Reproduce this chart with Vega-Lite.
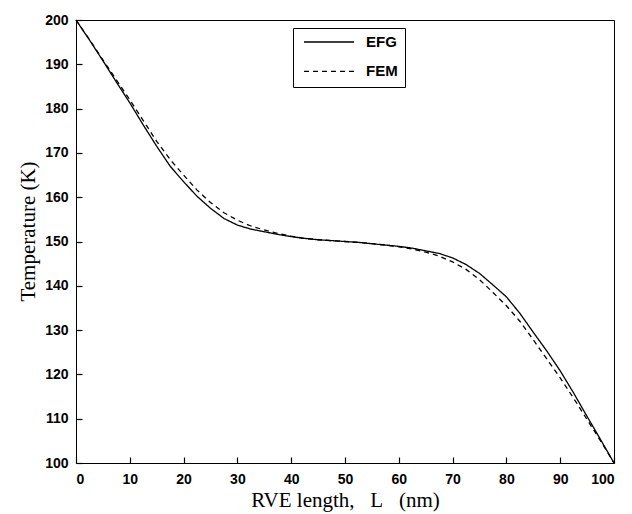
{
  "$schema": "https://vega.github.io/schema/vega-lite/v6.json",
  "width": 538,
  "height": 443,
  "autosize": "none",
  "padding": {"left": 76, "top": 20, "right": 18, "bottom": 51},
  "background": "white",
  "config": {
    "view": {"stroke": "black", "strokeWidth": 1},
    "axis": {
      "grid": false,
      "domain": false,
      "tickColor": "black",
      "tickOpacity": 1,
      "tickSize": 6,
      "tickWidth": 1.2,
      "labelFont": "Liberation Sans",
      "labelFontWeight": "bold",
      "labelFontSize": 14,
      "labelColor": "black",
      "titleFont": "Liberation Serif",
      "titleFontWeight": "normal",
      "titleFontSize": 21,
      "titleColor": "black"
    }
  },
  "data": {
    "values": [
      {"L": 0, "T": 200, "method": "EFG"},
      {"L": 2.5, "T": 195.5, "method": "EFG"},
      {"L": 5, "T": 190.8, "method": "EFG"},
      {"L": 7.5, "T": 186, "method": "EFG"},
      {"L": 10, "T": 181.3, "method": "EFG"},
      {"L": 12.5, "T": 176.3, "method": "EFG"},
      {"L": 15, "T": 171.5, "method": "EFG"},
      {"L": 17.5, "T": 167, "method": "EFG"},
      {"L": 20, "T": 163.5, "method": "EFG"},
      {"L": 22.5, "T": 160.2, "method": "EFG"},
      {"L": 25, "T": 157.5, "method": "EFG"},
      {"L": 27.5, "T": 155.2, "method": "EFG"},
      {"L": 30, "T": 153.7, "method": "EFG"},
      {"L": 32.5, "T": 152.8, "method": "EFG"},
      {"L": 35, "T": 152.2, "method": "EFG"},
      {"L": 37.5, "T": 151.6, "method": "EFG"},
      {"L": 40, "T": 151.1, "method": "EFG"},
      {"L": 42.5, "T": 150.7, "method": "EFG"},
      {"L": 45, "T": 150.4, "method": "EFG"},
      {"L": 47.5, "T": 150.2, "method": "EFG"},
      {"L": 50, "T": 150, "method": "EFG"},
      {"L": 52.5, "T": 149.8, "method": "EFG"},
      {"L": 55, "T": 149.5, "method": "EFG"},
      {"L": 57.5, "T": 149.2, "method": "EFG"},
      {"L": 60, "T": 148.9, "method": "EFG"},
      {"L": 62.5, "T": 148.5, "method": "EFG"},
      {"L": 65, "T": 147.9, "method": "EFG"},
      {"L": 67.5, "T": 147.3, "method": "EFG"},
      {"L": 70, "T": 146.3, "method": "EFG"},
      {"L": 72.5, "T": 144.8, "method": "EFG"},
      {"L": 75, "T": 142.8, "method": "EFG"},
      {"L": 77.5, "T": 140.2, "method": "EFG"},
      {"L": 80, "T": 137.5, "method": "EFG"},
      {"L": 82.5, "T": 133.8, "method": "EFG"},
      {"L": 85, "T": 129.5, "method": "EFG"},
      {"L": 87.5, "T": 125.3, "method": "EFG"},
      {"L": 90, "T": 120.8, "method": "EFG"},
      {"L": 92.5, "T": 115.8, "method": "EFG"},
      {"L": 95, "T": 110.5, "method": "EFG"},
      {"L": 97.5, "T": 105.3, "method": "EFG"},
      {"L": 100, "T": 100, "method": "EFG"},
      {"L": 0, "T": 200, "method": "FEM"},
      {"L": 2.5, "T": 195.6, "method": "FEM"},
      {"L": 5, "T": 191, "method": "FEM"},
      {"L": 7.5, "T": 186.5, "method": "FEM"},
      {"L": 10, "T": 182, "method": "FEM"},
      {"L": 12.5, "T": 177.3, "method": "FEM"},
      {"L": 15, "T": 172.6, "method": "FEM"},
      {"L": 17.5, "T": 168.5, "method": "FEM"},
      {"L": 20, "T": 165, "method": "FEM"},
      {"L": 22.5, "T": 161.6, "method": "FEM"},
      {"L": 25, "T": 158.8, "method": "FEM"},
      {"L": 27.5, "T": 156.5, "method": "FEM"},
      {"L": 30, "T": 154.8, "method": "FEM"},
      {"L": 32.5, "T": 153.5, "method": "FEM"},
      {"L": 35, "T": 152.6, "method": "FEM"},
      {"L": 37.5, "T": 151.8, "method": "FEM"},
      {"L": 40, "T": 151.2, "method": "FEM"},
      {"L": 42.5, "T": 150.7, "method": "FEM"},
      {"L": 45, "T": 150.4, "method": "FEM"},
      {"L": 47.5, "T": 150.2, "method": "FEM"},
      {"L": 50, "T": 150, "method": "FEM"},
      {"L": 52.5, "T": 149.8, "method": "FEM"},
      {"L": 55, "T": 149.5, "method": "FEM"},
      {"L": 57.5, "T": 149.2, "method": "FEM"},
      {"L": 60, "T": 148.8, "method": "FEM"},
      {"L": 62.5, "T": 148.3, "method": "FEM"},
      {"L": 65, "T": 147.6, "method": "FEM"},
      {"L": 67.5, "T": 146.7, "method": "FEM"},
      {"L": 70, "T": 145.4, "method": "FEM"},
      {"L": 72.5, "T": 143.7, "method": "FEM"},
      {"L": 75, "T": 141.4, "method": "FEM"},
      {"L": 77.5, "T": 138.5, "method": "FEM"},
      {"L": 80, "T": 135.5, "method": "FEM"},
      {"L": 82.5, "T": 132, "method": "FEM"},
      {"L": 85, "T": 127.8, "method": "FEM"},
      {"L": 87.5, "T": 123.5, "method": "FEM"},
      {"L": 90, "T": 119.2, "method": "FEM"},
      {"L": 92.5, "T": 114.6, "method": "FEM"},
      {"L": 95, "T": 109.8, "method": "FEM"},
      {"L": 97.5, "T": 105, "method": "FEM"},
      {"L": 100, "T": 100, "method": "FEM"}
    ]
  },
  "mark": {"type": "line", "color": "black", "strokeWidth": 1.3},
  "encoding": {
    "x": {
      "field": "L", "type": "quantitative",
      "scale": {"domain": [0, 100], "nice": false},
      "axis": {"orient": "bottom", "ticks": true, "offset": -6, "values": [0,10,20,30,40,50,60,70,80,90,100], "labelPadding": 9, "title": "RVE length,\u00a0\u00a0\u00a0L\u00a0\u00a0\u00a0(nm)", "titlePadding": 3}
    },
    "y": {
      "field": "T", "type": "quantitative",
      "scale": {"domain": [100, 200], "nice": false, "zero": false},
      "axis": {"orient": "left", "ticks": true, "offset": -6, "values": [100,110,120,130,140,150,160,170,180,190,200], "labelPadding": 8, "title": "Temperature (K)", "titlePadding": 6, "titleY": 211}
    },
    "strokeDash": {
      "field": "method", "type": "nominal",
      "scale": {"domain": ["EFG", "FEM"], "range": [[1, 0], [5, 4]]},
      "legend": {
        "title": null,
        "orient": "none",
        "legendX": 217,
        "legendY": 8,
        "fillColor": "white",
        "strokeColor": "black",
        "padding": 7,
        "clipHeight": 14,
        "symbolType": "stroke",
        "symbolStrokeColor": "black",
        "symbolStrokeWidth": 1.3,
        "symbolSize": 2500,
        "symbolOffset": 3,
        "labelFont": "Liberation Sans",
        "labelFontWeight": "bold",
        "labelFontSize": 15,
        "labelColor": "black",
        "labelOffset": 11,
        "rowPadding": 14.4
      }
    }
  }
}
